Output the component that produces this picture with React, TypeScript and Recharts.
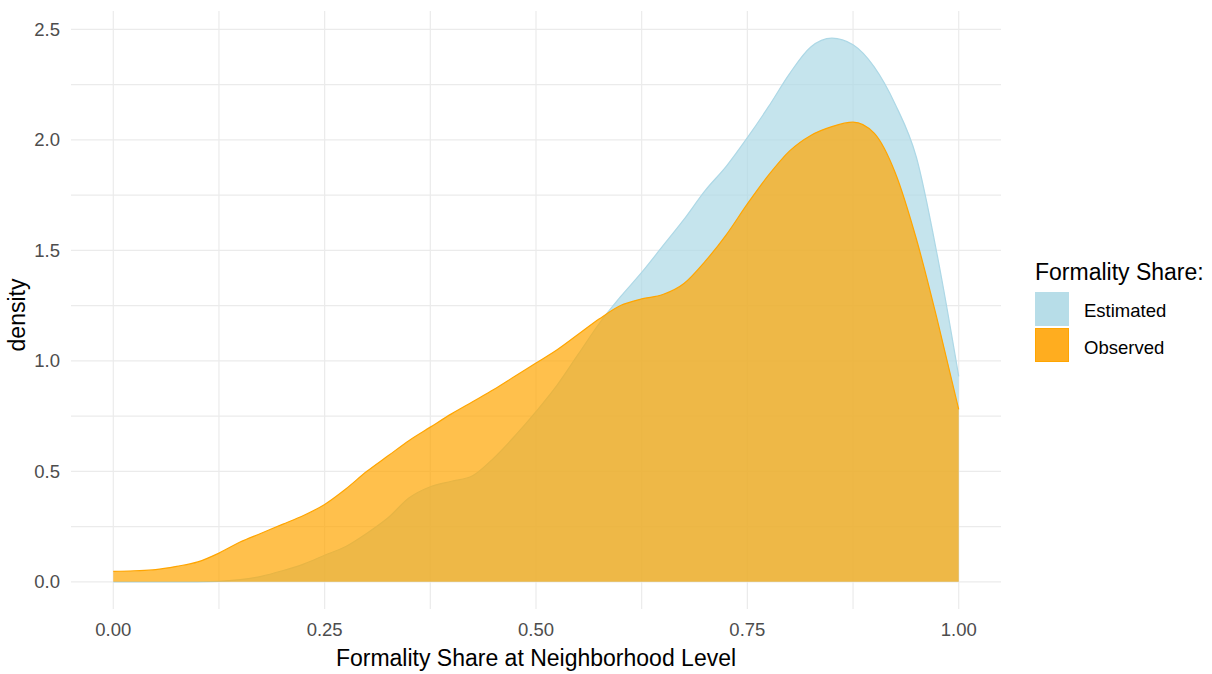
import React from "react";
import {
  Area,
  CartesianGrid,
  ComposedChart,
  XAxis,
  YAxis,
} from "recharts";

// grid of x positions the densities were read at
const shareX = [
  0, 0.025, 0.05, 0.075, 0.1, 0.125, 0.15, 0.175, 0.2, 0.225,
  0.25, 0.275, 0.3, 0.325, 0.35, 0.375, 0.4, 0.425, 0.45, 0.475,
  0.5, 0.525, 0.55, 0.575, 0.6, 0.625, 0.65, 0.675, 0.7, 0.725,
  0.75, 0.775, 0.8, 0.825, 0.85, 0.875, 0.9, 0.925, 0.95, 0.975, 1,
];

const estimated = [
  0, 0, 0, 0, 0, 0.002, 0.01, 0.025, 0.05, 0.08,
  0.12, 0.16, 0.22, 0.29, 0.38, 0.43, 0.455, 0.48, 0.56, 0.66,
  0.77, 0.89, 1.03, 1.17, 1.29, 1.4, 1.52, 1.64, 1.77, 1.88,
  2.01, 2.15, 2.3, 2.42, 2.46, 2.43, 2.33, 2.16, 1.92, 1.47, 0.93,
];

const observed = [
  0.047, 0.05, 0.055, 0.07, 0.09, 0.13, 0.18, 0.22, 0.26, 0.3,
  0.35, 0.42, 0.5, 0.57, 0.64, 0.7, 0.76, 0.815, 0.87, 0.93,
  0.99, 1.05, 1.12, 1.19, 1.25, 1.28, 1.3, 1.35, 1.45, 1.57,
  1.71, 1.84, 1.95, 2.02, 2.06, 2.08, 2.03, 1.85, 1.55, 1.18, 0.78,
];

const xTicks = [0, 0.25, 0.5, 0.75, 1];
const yTicks = [0, 0.5, 1, 1.5, 2, 2.5];
const xGrid = [0, 0.125, 0.25, 0.375, 0.5, 0.625, 0.75, 0.875, 1];
const yGrid = [0, 0.25, 0.5, 0.75, 1, 1.25, 1.5, 1.75, 2, 2.25, 2.5];

const legendItems = [
  { label: "Estimated", color: "#B7DDE8", border: "#B7DDE8" },
  { label: "Observed", color: "#FFAD1F", border: "#FFA500" },
];

const FONT = "Arial, 'Liberation Sans', sans-serif";

const rows = shareX.map((x, i) => ({
  x,
  estimated: estimated[i],
  observed: observed[i],
}));

export default function App() {
  return (
    <div
      style={{
        position: "absolute",
        left: 0,
        top: 0,
        width: 1212,
        height: 674,
        background: "#fff",
        fontFamily: FONT,
      }}
    >
      <ComposedChart
        width={1212}
        height={674}
        data={rows}
        margin={{ top: 11, right: 211, bottom: 0, left: 0 }}
      >
        <CartesianGrid
          stroke="#EBEBEB"
          strokeWidth={1.2}
          horizontalValues={yGrid}
          verticalValues={xGrid}
        />
        <XAxis
          dataKey="x"
          type="number"
          domain={[-0.05, 1.05]}
          ticks={xTicks}
          tickFormatter={(v) => v.toFixed(2)}
          axisLine={false}
          tickLine={false}
          tickSize={0}
          tickMargin={14}
          height={65}
          tick={{ fill: "#4D4D4D", fontSize: 18.5, fontFamily: FONT }}
          allowDataOverflow
          label={{
            content: ({ viewBox }: any) => (
              <text
                x={viewBox.x + viewBox.width / 2}
                y={viewBox.y + 57}
                textAnchor="middle"
                fontSize={23}
                fontFamily={FONT}
                fill="#000"
              >
                Formality Share at Neighborhood Level
              </text>
            ),
          }}
        />
        <YAxis
          type="number"
          domain={[-0.123, 2.583]}
          ticks={yTicks}
          tickFormatter={(v) => v.toFixed(1)}
          axisLine={false}
          tickLine={false}
          tickSize={0}
          tickMargin={11}
          width={71}
          tick={{ fill: "#4D4D4D", fontSize: 18.5, fontFamily: FONT }}
          allowDataOverflow
          label={{
            content: ({ viewBox }: any) => {
              const cy = viewBox.y + viewBox.height / 2 + 5;
              return (
                <text
                  x={25}
                  y={cy}
                  transform={`rotate(-90 25 ${cy})`}
                  textAnchor="middle"
                  fontSize={23}
                  fontFamily={FONT}
                  fill="#000"
                >
                  density
                </text>
              );
            },
          }}
        />
        <Area
          dataKey="estimated"
          type="monotoneX"
          baseValue={0}
          fill="#ADD8E6"
          fillOpacity={0.7}
          stroke="#ADD8E6"
          strokeWidth={1.2}
          isAnimationActive={false}
          dot={false}
          activeDot={false}
        />
        <Area
          dataKey="observed"
          type="monotoneX"
          baseValue={0}
          fill="#FFA500"
          fillOpacity={0.7}
          stroke="#FFA500"
          strokeWidth={1.2}
          isAnimationActive={false}
          dot={false}
          activeDot={false}
        />
      </ComposedChart>

      {/* legend, ggplot style on the right */}
      <div
        style={{
          position: "absolute",
          left: 1035,
          top: 261,
          fontSize: 23,
          lineHeight: "23px",
          color: "#000",
          whiteSpace: "nowrap",
        }}
      >
        Formality Share:
      </div>
      {legendItems.map((item, i) => (
        <React.Fragment key={item.label}>
          <div
            style={{
              position: "absolute",
              left: 1035,
              top: 292 + i * 36,
              width: 34,
              height: 34,
              background: item.color,
              border: `1px solid ${item.border}`,
              boxSizing: "border-box",
            }}
          />
          <div
            style={{
              position: "absolute",
              left: 1084,
              top: 302 + i * 37,
              fontSize: 18.5,
              lineHeight: "18.5px",
              color: "#000",
              whiteSpace: "nowrap",
            }}
          >
            {item.label}
          </div>
        </React.Fragment>
      ))}
    </div>
  );
}
